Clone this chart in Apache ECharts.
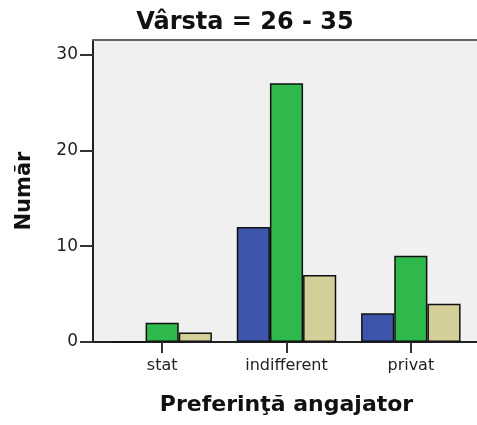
<!DOCTYPE html>
<html>
<head>
<meta charset="utf-8">
<script src="https://cdn.jsdelivr.net/npm/echarts@6/dist/echarts.min.js"></script>
<style>
  html, body { margin: 0; padding: 0; background: #fff; }
  #chart { width: 477px; height: 425px; }
</style>
</head>
<body>
<div id="chart"></div>
<script>
// data
const categories = ["stat", "indifferent", "privat"];
const blueVals = [0, 12, 3];
const greenVals = [2, 27, 9];
const beigeVals = [1, 7, 4];
const yTicks = [0, 10, 20, 30];
const yMax = 31.5;

const chart = echarts.init(document.getElementById("chart"));

const barStyle = (color) => ({
  color: color,
  borderColor: "#111",
  borderWidth: 1.5,
});

const option = {
  animation: false,
  textStyle: { fontFamily: "DejaVu Sans" },
  title: {
    text: "Vârsta = 26 - 35",
    left: 240,
    top: 6,
    textAlign: "center",
    textStyle: {
      fontFamily: "DejaVu Sans",
      fontWeight: "bold",
      fontSize: 24,
      color: "#111",
    },
  },
  grid: [
    // box with the grey background
    { left: 93, right: -2, top: 40, bottom: 83, show: true, backgroundColor: "#f0f0f0", borderWidth: 0 },
    // the bars
    { left: 100, right: 4, top: 40, bottom: 83 },
  ],
  xAxis: [
    {
      gridIndex: 0, type: "value", position: "bottom", min: 0, max: 1,
      axisLine: { show: true, lineStyle: { color: "#222", width: 2 } },
      axisTick: { show: false }, axisLabel: { show: false }, splitLine: { show: false },
    },
    {
      gridIndex: 0, type: "value", position: "top", min: 0, max: 1,
      axisLine: { show: true, lineStyle: { color: "#666", width: 2 } },
      axisTick: { show: false }, axisLabel: { show: false }, splitLine: { show: false },
    },
    {
      gridIndex: 1, type: "category", data: categories,
      axisLine: { show: false },
      axisTick: { show: true, alignWithLabel: true, length: 11, lineStyle: { color: "#333", width: 2 } },
      axisLabel: { margin: 16, fontSize: 16, color: "#222", fontFamily: "DejaVu Sans" },
      name: "Preferinţă angajator",
      nameLocation: "middle",
      nameGap: 52,
      nameTextStyle: { fontFamily: "DejaVu Sans", fontWeight: "bold", fontSize: 22, color: "#111" },
    },
  ],
  yAxis: [
    {
      gridIndex: 0, type: "value", min: 0, max: yMax,
      axisLine: { show: true, lineStyle: { color: "#222", width: 2 } },
      axisTick: { show: true, length: 13, customValues: yTicks, lineStyle: { color: "#333", width: 2 } },
      axisLabel: { margin: 15, fontSize: 17, color: "#222", customValues: yTicks, fontFamily: "DejaVu Sans" },
      splitLine: { show: false },
      name: "Număr",
      nameLocation: "middle",
      nameGap: 58,
      nameTextStyle: { fontFamily: "DejaVu Sans", fontWeight: "bold", fontSize: 21, color: "#111" },
    },
    {
      gridIndex: 1, type: "value", min: 0, max: yMax, show: false,
    },
  ],
  series: [
    { type: "bar", xAxisIndex: 2, yAxisIndex: 1, data: blueVals, barGap: "0%", barCategoryGap: "20%", itemStyle: barStyle("#3d56ab") },
    { type: "bar", xAxisIndex: 2, yAxisIndex: 1, data: greenVals, barGap: "0%", barCategoryGap: "20%", itemStyle: barStyle("#2fb84b") },
    { type: "bar", xAxisIndex: 2, yAxisIndex: 1, data: beigeVals, barGap: "0%", barCategoryGap: "20%", itemStyle: barStyle("#d4cf98") },
  ],
};

chart.setOption(option);
</script>
</body>
</html>
